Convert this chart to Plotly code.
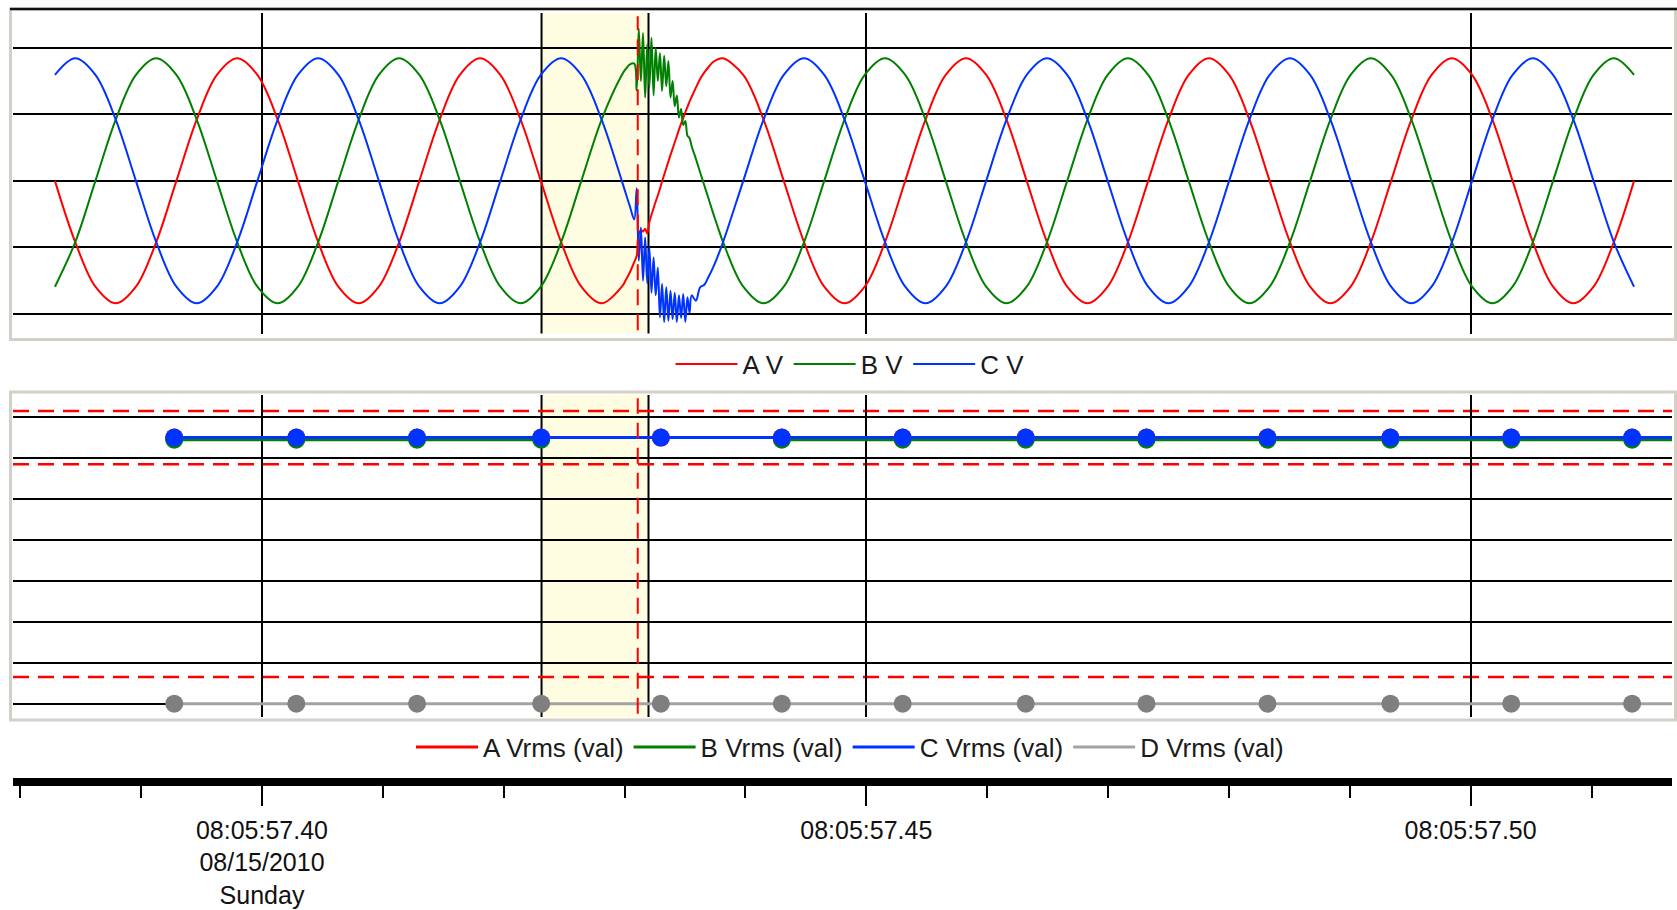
import plotly.graph_objects as go

W, H = 1677, 910
FONT = "Liberation Sans, Arial, sans-serif"

# ---------------- data ----------------
# waveform sample times, ms after 08:05:57.000
wave_t = [382.87, 384.55, 386.22, 387.90, 389.57, 391.25, 392.92, 394.60, 396.27, 397.95,
          399.62, 401.30, 402.97, 404.65, 406.32, 408.00, 409.67, 411.35, 413.02, 414.70,
          416.37, 418.05, 419.72, 421.40, 423.07, 424.75, 426.42, 428.10, 429.77,
          430.10, 430.45, 430.80,
          431.000, 431.175, 431.350, 431.525, 431.700, 431.875, 432.050, 432.225, 432.400,
          432.575, 432.750, 432.925, 433.100, 433.275, 433.450, 433.625, 433.800, 433.975,
          434.150, 434.325, 434.500, 434.675, 434.850, 435.025, 435.200, 435.375, 435.550,
          435.90, 436.25, 436.60, 436.95, 437.30, 437.65,
          438.15, 439.82, 441.50, 443.17, 444.85, 446.52, 448.20, 449.87, 451.55, 453.22,
          454.90, 456.57, 458.25, 459.92, 461.60, 463.27, 464.95, 466.62, 468.30, 469.97,
          471.65, 473.32, 475.00, 476.67, 478.35, 480.02, 481.70, 483.37, 485.05, 486.72,
          488.40, 490.07, 491.75, 493.42, 495.10, 496.77, 498.45, 500.12, 501.80, 503.47,
          505.15, 506.82, 508.50, 510.17, 511.85, 513.52]

phase_a_v = [0, -92, -159, -184, -159, -92, 0, 92, 159, 184, 159, 92,
             0, -92, -159, -184, -159, -92, 0, 92, 159, 184, 159, 92,
             0, -92, -159, -184, -159,
             -149, -137, -122,
             -113, -80, -74, -76, -72, -79, -62, -51, -41, -31, -22, -12, -1, 9,
             19, 29, 39, 48, 58, 67, 77, 86, 94, 103, 111, 119, 126,
             140, 153, 163, 171, 178, 182,
             184, 159, 92,
             0, -92, -159, -184, -159, -92, 0, 92, 159, 184, 159, 92,
             0, -92, -159, -184, -159, -92, 0, 92, 159, 184, 159, 92,
             0, -92, -159, -184, -159, -92, 0, 92, 159, 184, 159, 92,
             0, -92, -159, -184, -159, -92, 0]

phase_b_v = [-159, -92, 0, 92, 159, 184, 159, 92, 0, -92, -159, -184,
             -159, -92, 0, 92, 159, 184, 159, 92, 0, -92, -159, -184,
             -159, -92, 0, 92, 159,
             168, 175, 176,
             136, 229, 150, 222, 125, 205, 140, 215, 128, 200, 150, 192, 135, 188,
             142, 180, 125, 150, 112, 128, 95, 108, 84, 90, 68, 64, 52,
             33, 13, -7, -27, -47, -66,
             -92, -159, -184,
             -159, -92, 0, 92, 159, 184, 159, 92, 0, -92, -159, -184,
             -159, -92, 0, 92, 159, 184, 159, 92, 0, -92, -159, -184,
             -159, -92, 0, 92, 159, 184, 159, 92, 0, -92, -159, -184,
             -159, -92, 0, 92, 159, 184, 159]

phase_c_v = [159, 184, 159, 92, 0, -92, -159, -184, -159, -92, 0, 92,
             159, 184, 159, 92, 0, -92, -159, -184, -159, -92, 0, 92,
             159, 184, 159, 92, 0,
             -19, -39, -58,
             -11, -120, -70, -150, -85, -154, -100, -168, -115, -172, -130, -205, -155, -212,
             -160, -210, -165, -208, -168, -212, -172, -206, -170, -212, -175, -198, -172,
             -180, -160, -156, -144, -131, -116,
             -92, 0, 92,
             159, 184, 159, 92, 0, -92, -159, -184, -159, -92, 0, 92,
             159, 184, 159, 92, 0, -92, -159, -184, -159, -92, 0, 92,
             159, 184, 159, 92, 0, -92, -159, -184, -159, -92, 0, 92,
             159, 184, 159, 92, 0, -92, -159]

# half-cycle RMS values
rms_t = [392.74, 402.84, 412.83, 423.10, 433.00, 443.01, 453.01, 463.19, 473.18,
         483.19, 493.36, 503.36, 513.36, 523.40]
rms_a = [130.0, 130.0, 130.0, 130.0, 130.0, 130.0, 130.0, 130.0, 130.0, 130.0, 130.0, 130.0, 130.0, 130.0]
rms_b = [129.0, 129.0, 129.0, 129.0, None, 129.0, 129.0, 129.0, 129.0, 129.0, 129.0, 129.0, 129.0, 129.0]
rms_c = [130.0, 130.0, 130.0, 130.0, 130.0, 130.0, 130.0, 130.0, 130.0, 130.0, 130.0, 130.0, 130.0, 130.0]
rms_d = [0.0, 0.0, 0.0, 0.0, 0.0, 0.0, 0.0, 0.0, 0.0, 0.0, 0.0, 0.0, 0.0, 0.0]
rms_limits = [143, 117, 13]

cursor_t = [423.13, 431.98]
event_t = [431.09]

tick_vals = [400, 450, 500]
tick_text = ["08:05:57.40<br>08/15/2010<br>Sunday", "08:05:57.45", "08:05:57.50"]
wave_grid = [-200, -100, 0, 100, 200]
rms_grid = [0, 20, 40, 60, 80, 100, 120, 140]

wave_names = ["A V", "B V", "C V"]
rms_names = ["A Vrms (val)", "B Vrms (val)", "C Vrms (val)", "D Vrms (val)"]

RED, GREEN, BLUE = "#ff0000", "#008000", "#0033ff"
GRAYL, GRAYM = "#a3a3a3", "#7f7f7f"

# ---------------- figure ----------------
fig = go.Figure()

for name, vals, col in zip(wave_names, [phase_a_v, phase_b_v, phase_c_v], [RED, GREEN, BLUE]):
    fig.add_trace(go.Scatter(x=wave_t, y=vals, mode="lines", name=name,
                             line=dict(color=col, width=2, shape="spline", smoothing=1),
                             xaxis="x", yaxis="y", legend="legend", hoverinfo="skip"))

rms_series = [rms_a, rms_b, rms_c, rms_d]
line_cols = [RED, GREEN, BLUE, GRAYL]
mark_cols = [RED, GREEN, BLUE, GRAYM]
for name, vals, col in zip(rms_names, rms_series, line_cols):
    fig.add_trace(go.Scatter(x=rms_t, y=vals, mode="lines", name=name,
                             line=dict(color=col, width=3),
                             xaxis="x2", yaxis="y2", legend="legend2", hoverinfo="skip"))
for vals, col in zip(rms_series, mark_cols):
    fig.add_trace(go.Scatter(x=rms_t, y=vals, mode="markers", showlegend=False,
                             marker=dict(color=col, size=18, line=dict(width=0)),
                             xaxis="x2", yaxis="y2", hoverinfo="skip"))

L_PX, R_PX = 13, 1672
x_dom = [L_PX / W, R_PX / W]
x_rng = [379.40, 516.66]

shapes = []
# panel frames
shapes.append(dict(type="rect", xref="paper", yref="paper",
                   x0=10.5 / W, x1=1675.5 / W, y0=1 - 339.5 / H, y1=1 - 9 / H,
                   line=dict(color="#d4d0c8", width=3), layer="above"))
shapes.append(dict(type="line", xref="paper", yref="paper",
                   x0=10 / W, x1=1, y0=1 - 9 / H, y1=1 - 9 / H,
                   line=dict(color="#111111", width=2.5), layer="above"))
shapes.append(dict(type="rect", xref="paper", yref="paper",
                   x0=10.5 / W, x1=1675.5 / W, y0=1 - 720 / H, y1=1 - 392 / H,
                   line=dict(color="#d4d0c8", width=3), layer="above"))

for xr, yr in [("x", "y domain"), ("x2", "y2 domain")]:
    shapes.append(dict(type="rect", xref=xr, yref=yr, x0=cursor_t[0], x1=cursor_t[1], y0=0, y1=1,
                       fillcolor="#fefde2", line=dict(width=0), layer="below"))
    for c in cursor_t:
        shapes.append(dict(type="line", xref=xr, yref=yr, x0=c, x1=c, y0=0, y1=1,
                           line=dict(color="black", width=2), layer="below"))
    for e in event_t:
        shapes.append(dict(type="line", xref=xr, yref=yr, x0=e, x1=e, y0=0.01, y1=0.99,
                           line=dict(color=RED, width=2, dash="16px,9px"), layer="above"))

for lim in rms_limits:
    shapes.append(dict(type="line", xref="x2 domain", yref="y2", x0=0, x1=1, y0=lim, y1=lim,
                       line=dict(color=RED, width=2.5, dash="16px,9px"), layer="below"))

grid_common = dict(showgrid=True, gridcolor="black", gridwidth=2, zeroline=False,
                   showticklabels=False, ticks="", showline=False, fixedrange=True)

legend_common = dict(orientation="h", xanchor="center", x=850 / W, yanchor="middle",
                     font=dict(family=FONT, size=26, color="#1a1a1a"),
                     itemwidth=62, bgcolor="rgba(0,0,0,0)", borderwidth=0,
                     traceorder="normal", itemclick=False, itemdoubleclick=False)

fig.update_layout(
    width=W, height=H, autosize=False,
    margin=dict(l=0, r=0, t=0, b=0, pad=0),
    paper_bgcolor="white", plot_bgcolor="white",
    font=dict(family=FONT, color="#111111"),
    showlegend=True,
    hovermode=False,
    xaxis=dict(domain=x_dom, range=x_rng, anchor="y", tickmode="array", tickvals=tick_vals,
               **grid_common),
    yaxis=dict(domain=[1 - 333.5 / H, 1 - 13 / H], range=[-229.3, 252.1], anchor="x",
               tickmode="array", tickvals=wave_grid, **grid_common),
    xaxis2=dict(domain=x_dom, range=x_rng, anchor="free", position=1 - 781.5 / H,
                tickmode="array", tickvals=tick_vals, ticktext=tick_text,
                ticks="outside", ticklen=20, tickwidth=1.5, tickcolor="black",
                showline=True, linecolor="black", linewidth=8,
                showgrid=True, gridcolor="black", gridwidth=2, zeroline=False,
                tickfont=dict(family=FONT, size=25, color="#111111"),
                ticklabelstandoff=3,
                minor=dict(tickmode="linear", tick0=400, dtick=10, ticks="outside",
                           ticklen=12, tickwidth=1.5, tickcolor="black", showgrid=False),
                fixedrange=True),
    yaxis2=dict(domain=[1 - 717 / H, 1 - 395 / H], range=[-6.5, 150.8], anchor="x2",
                tickmode="array", tickvals=rms_grid, **grid_common),
    legend=dict(y=1 - 364 / H, **legend_common),
    legend2=dict(y=1 - 747 / H, **legend_common),
    shapes=shapes,
)

fig.write_html("out.html", config={"displayModeBar": False},
               post_script="document.body.style.margin='0px';document.body.style.overflow='hidden';")
